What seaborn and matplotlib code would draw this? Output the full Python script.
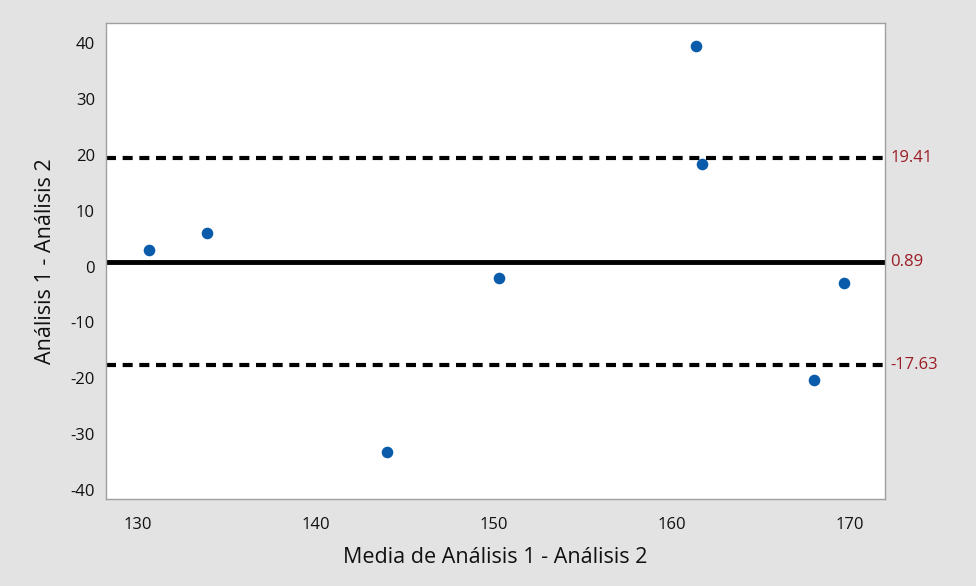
import matplotlib
matplotlib.use('Agg')
import matplotlib.pyplot as plt
import seaborn as sns
import pandas as pd

# Bland-Altman data
media = [130.6, 133.9, 144.0, 150.3, 161.4, 161.7, 168.0, 169.7]
diferencia = [3.0, 6.0, -33.2, -2.0, 39.5, 18.3, -20.3, -2.9]

limites = [19.41, 0.89, -17.63]
limite_etiquetas = ['19.41', '0.89', '-17.63']
limite_estilos = ['--', '-', '--']

x_ticks = [130, 140, 150, 160, 170]
y_ticks = [-40, -30, -20, -10, 0, 10, 20, 30, 40]

df = pd.DataFrame({'media': media, 'diferencia': diferencia})

sns.set_style('white')
plt.rcParams['font.family'] = ['Open Sans', 'DejaVu Sans']
plt.rcParams['axes.unicode_minus'] = False

fig = plt.figure(figsize=(9.76, 5.86), dpi=100, facecolor='#e3e3e3')
ax = fig.add_axes([106 / 976, 1 - 499 / 586, (885 - 106) / 976, (499 - 23) / 586])
ax.set_facecolor('white')

for val, lab, ls in zip(limites, limite_etiquetas, limite_estilos):
    if ls == '-':
        ax.axhline(val, color='black', lw=3.5, ls='-', zorder=2)
    else:
        ax.axhline(val, color='black', lw=3, ls=(0, (2.4, 1.6)), zorder=2)
    ax.text(1.007, val, lab, transform=ax.get_yaxis_transform(), color='#9b1c24',
            fontsize=12, va='center', ha='left')

sns.scatterplot(data=df, x='media', y='diferencia', ax=ax, color='#0b5bab',
                s=70, edgecolor='#0b5bab', linewidth=0, zorder=3)

ax.set_xlim(128.2, 172.0)
ax.set_ylim(-41.6, 43.6)
ax.set_xticks(x_ticks)
ax.set_yticks(y_ticks)
ax.tick_params(axis='both', direction='out', length=5, width=1, color='#999999',
               labelsize=12, labelcolor='#111111', pad=3)
ax.tick_params(axis='x', pad=8)
for sp in ax.spines.values():
    sp.set_color('#a0a0a0')
    sp.set_linewidth(1)

ax.set_xlabel('Media de Análisis 1 - Análisis 2', fontsize=15.5, color='#111111', labelpad=10)
ax.set_ylabel('Análisis 1 - Análisis 2', fontsize=15.5, color='#111111', labelpad=10)

fig.savefig('out.png', dpi=100, facecolor=fig.get_facecolor())
